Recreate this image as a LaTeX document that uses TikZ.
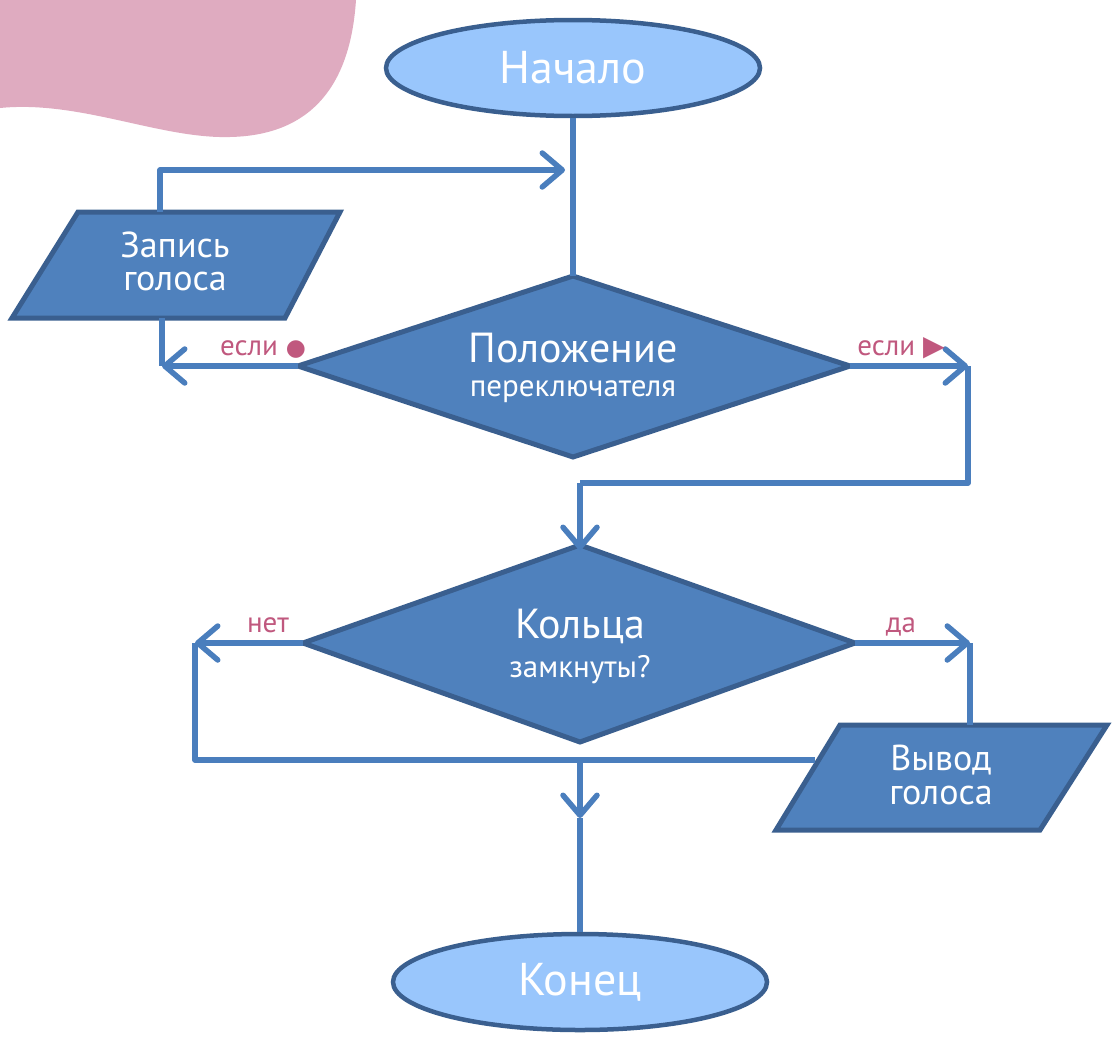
\documentclass[tikz,border=0pt]{standalone}
\usepackage{fontspec}
\setmainfont{PT Sans}
\newfontfamily\symfont{DejaVu Sans}
\usetikzlibrary{arrows.meta,shapes.geometric}
\definecolor{blob}{HTML}{DFABC0}
\definecolor{termfill}{HTML}{99C6FC}
\definecolor{edge}{HTML}{3A5F8F}
\definecolor{boxfill}{HTML}{4F81BD}
\definecolor{flow}{HTML}{4A7EBD}
\definecolor{tag}{HTML}{C0587E}
\begin{document}
\begin{tikzpicture}[x=1pt,y=-1pt,
  terminal/.style={ellipse,draw=edge,fill=termfill,line width=4.5pt,
    minimum width=374pt,minimum height=96pt,text=white,
    font=\fontsize{46}{48}\selectfont},
  shapebox/.style={draw=edge,fill=boxfill,line width=5pt,line join=miter},
  bigtext/.style={text=white,inner sep=0pt,font=\fontsize{42}{44}\selectfont},
  smalltext/.style={text=white,inner sep=0pt,font=\fontsize{31}{33}\selectfont},
  iotext/.style={text=white,inner sep=0pt,font=\fontsize{36}{38}\selectfont},
  flowline/.style={draw=flow,line width=5.5pt,line join=round},
  arrowed/.style={flowline,-{Straight Barb[length=20pt,width=34pt,round]}},
  cond/.style={text=tag,font=\fontsize{29}{31}\selectfont}]
\useasboundingbox (0,0) rectangle (1115,1044);

% decorative corner shape
\fill[blob] (0,0) -- (356,0) .. controls (352,60) and (330,135) .. (230,137)
  .. controls (160,139) and (80,100) .. (0,108) -- cycle;

% terminals
\node[terminal] (start) at (573,68) {Начало};
\node[terminal] (stop) at (580,982) {Конец};

% first decision
\coordinate (d1w) at (298,366);
\coordinate (d1e) at (850,366);
\coordinate (d1n) at (573,276);
\coordinate (d1s) at (573,457);
\filldraw[shapebox] (d1w) -- (d1n) -- (d1e) -- (d1s) -- cycle;
\node[bigtext] (d1a) at (573,348) {Положение};
\node[smalltext] (d1b) at (573,392) {переключателя};

% second decision
\coordinate (d2w) at (303,643);
\coordinate (d2e) at (855,643);
\coordinate (d2n) at (580,545);
\coordinate (d2s) at (580,742);
\filldraw[shapebox] (d2w) -- (d2n) -- (d2e) -- (d2s) -- cycle;
\node[bigtext] (d2a) at (580,626) {Кольца};
\node[smalltext] (d2b) at (580,670) {замкнуты?};

% input / output parallelograms
\filldraw[shapebox] (78,212) -- (340,212) -- (285,318) -- (12,318) -- cycle;
\node[iotext] (rec1) at (175,245) {Запись};
\node[iotext] (rec2) at (175,281) {голоса};
\coordinate (recN) at (160,212);
\coordinate (recS) at (162,318);

\filldraw[shapebox] (840,725) -- (1107,725) -- (1040,830) -- (776,830) -- cycle;
\node[iotext] (out1) at (941,760) {Вывод};
\node[iotext] (out2) at (941,795) {голоса};
\coordinate (outN) at (970,725);
\coordinate (outW) at (815,760);

% connectors
\coordinate (loopIn) at (573,170);
\draw[flowline] (start.south) -- (d1n);
\draw[arrowed] (recN) |- ([xshift=-8pt]loopIn);

\coordinate (lArr) at (162,366);
\draw[arrowed] (d1w) -- (lArr);
\draw[flowline] (recS) -- (lArr);
\node[cond,anchor=base] (ifRec) at (263,355) {если {\symfont\fontsize{23}{24}\selectfont ●}};

\coordinate (rArr) at (968,366);
\coordinate (rTurn) at (968,483);
\coordinate (dTurn) at (580,483);
\draw[arrowed] (d1e) -- (rArr);
\draw[flowline] (rArr) -- (rTurn) -- (dTurn);
\draw[arrowed] (dTurn) -- ([yshift=-5pt]d2n);
\node[cond,anchor=base] (ifPlay) at (901,355) {если {\symfont\fontsize{28}{30}\selectfont ▶}};

\coordinate (noArr) at (195,643);
\coordinate (noTurn) at (195,760);
\coordinate (join) at (580,760);
\coordinate (yesArr) at (970,643);
\draw[arrowed] (d2w) -- (noArr);
\draw[flowline] (noArr) -- (noTurn) -- (outW);
\node[cond,anchor=base] (no) at (268,632) {нет};
\draw[arrowed] (d2e) -- (yesArr);
\draw[flowline] (yesArr) -- (outN);
\node[cond,anchor=base] (yes) at (901,632) {да};

\coordinate (midArr) at (580,818);
\draw[arrowed] (join) -- (midArr);
\draw[flowline] (midArr) -- (stop.north);
\end{tikzpicture}
\end{document}
